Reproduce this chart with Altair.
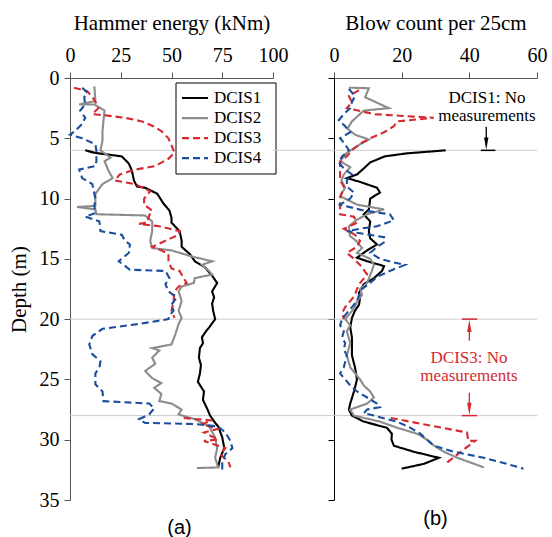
import altair as alt
import pandas as pd

SERIES = ["DCIS1", "DCIS2", "DCIS3", "DCIS4"]
COLORS = ["#000000", "#8c8c8c", "#d42a30", "#1c4e9e"]
DASHES = [[1, 0], [1, 0], [7, 4], [7, 4]]

# ---------------- Hammer energy (kNm) ----------------
e1_depth = [6.0, 6.2, 6.5, 7.1, 7.7, 8.5, 9.0, 9.1, 9.6, 10.4, 11.0, 11.6, 12.0, 12.7, 13.5, 14.0, 14.6, 15.2,
            15.7, 16.4, 17.0, 17.7, 18.2, 18.7, 19.3, 20.0, 20.7, 21.0, 21.5, 22.0, 22.4, 23.2, 23.8, 24.5, 25.2,
            26.0, 26.7, 27.4, 28.0, 28.6, 28.9, 29.8, 30.7, 31.5, 32.3]
e1_val = [7.5, 12, 25.5, 29, 30.5, 31.5, 33, 37, 43, 46, 49, 50, 50, 54, 55, 55, 59, 61.5,
          66.5, 70, 72.5, 70, 71, 70, 70.5, 71.5, 68.5, 67, 65, 65.5, 64, 63.5, 64.5, 64, 63,
          66, 65.5, 67.5, 69, 71.5, 73, 75, 76, 74, 73]

e2_depth = [0.7, 1.9, 2.2, 2.2, 2.6, 2.7, 4.4, 5.2, 6.0, 6.6, 6.9, 7.7, 8.3, 8.8, 9.6, 10.6, 10.7, 10.9, 11.3,
            11.4, 11.9, 12.7, 13.5, 14.1, 14.3, 14.8, 15.2, 15.5, 16.0, 16.3, 16.6, 17.0, 17.3, 17.7, 18.5, 19.3,
            19.9, 20.4, 21.2, 22.1, 22.4, 22.6, 23.2, 23.7, 24.3, 24.9, 25.3, 25.7, 26.2, 26.8, 27.0, 27.5, 27.9,
            28.3, 28.9, 29.8, 30.7, 31.5, 32.3, 32.35]
e2_val = [12, 12.5, 4.5, 12, 16, 17, 16, 16, 15, 20, 17, 19, 21, 16, 12.5, 12.5, 3.5, 12.5, 13,
          37, 40.5, 40.5, 39.5, 40.5, 50, 60, 70, 65, 68.5, 70, 61.5, 61, 55, 53.5, 55, 53.5,
          55, 53.5, 52, 50, 40.5, 44, 40.5, 42, 37, 40.5, 45, 41.5, 45, 44, 50, 55, 53.5,
          61.5, 68.5, 71.5, 72.5, 71.5, 73, 62.5]

e3a_depth = [0.8, 1.1, 1.8, 2.5, 3.0, 3.1, 3.3, 3.6, 4.0, 4.4, 5.0, 5.6, 6.2, 6.7, 7.3, 7.6, 8.0, 8.5, 8.8,
             9.4, 10.0, 10.5, 11.0, 11.4, 12.0, 12.1, 12.3, 12.7, 13.0, 13.5, 14.0, 14.3, 14.6, 15.2, 15.8,
             16.0, 16.6, 17.0, 17.3, 17.7, 18.5, 19.3, 19.9]
e3a_val = [2, 8.5, 12, 14, 11, 17.5, 27, 35.5, 41, 45, 48.5, 50, 51.5, 48.5, 42, 32, 24.5, 22, 32,
           39.5, 36.5, 36.5, 40.5, 39, 38, 34, 44, 54, 53.5, 47, 40.5, 45, 48.5, 48.5, 50,
           54, 56, 57.5, 53.5, 51.5, 51, 50, 51.5]
e3b_depth = [28.2, 28.4, 28.7, 29.1, 29.4, 30.0, 30.1, 30.7, 31.2, 31.8, 32.3]
e3b_val = [56, 70, 65, 73, 66, 73, 66, 76.5, 74, 78, 79]

e4_depth = [0.8, 1.2, 1.6, 2.2, 2.7, 3.3, 3.8, 4.4, 4.7, 5.0, 5.5, 6.0, 6.9, 7.3, 7.6, 8.3, 8.8, 10.0, 10.6,
            11.2, 11.5, 11.9, 12.7, 13.0, 13.5, 13.8, 14.5, 15.2, 15.5, 15.9, 16.0, 16.6, 17.1, 17.7, 18.2,
            18.8, 19.3, 19.7, 20.0, 20.4, 20.8, 21.4, 22.1, 22.9, 23.5, 24.0, 24.5, 25.4, 26.0, 26.8, 27.0,
            27.4, 27.9, 28.3, 28.6, 28.7, 28.9, 29.4, 30.1, 30.7, 31.2, 31.9, 32.8]
e4_val = [6, 8.5, 7, 7.5, 5, 7.5, 6, 2.5, 0, 6, 12.5, 13, 13, 12.5, 4.5, 6, 11, 12.5, 12,
          12.5, 7.5, 14.5, 15, 25.5, 27, 29.5, 29, 24, 26.5, 29.5, 47, 49, 47, 48.5, 52.5,
          50, 51, 49, 48.5, 34, 16, 11, 9.5, 11, 15, 14.5, 12.5, 12.5, 16, 16.5, 39,
          41.5, 39, 34, 37, 61.5, 73, 76.5, 79, 80, 76.5, 75, 75]

# ---------------- Blow count per 25cm ----------------
b1_depth = [6.0, 6.25, 6.5, 7.0, 7.5, 8.0, 8.3, 8.6, 9.1, 9.5, 10.0, 10.9, 11.3, 11.9, 12.7, 13.3, 13.8, 14.3,
            14.9, 15.2, 15.6, 16.0, 16.6, 17.1, 17.8, 18.2, 18.8, 19.3, 19.9, 20.7, 21.5, 22.4, 23.0, 24.0,
            25.0, 26.0, 27.0, 27.5, 28.0, 28.5, 29.0, 29.5, 30.0, 30.5, 31.0, 31.5, 32.0, 32.4]
b1_val = [33, 21.5, 15, 10.7, 8.8, 6.8, 3.8, 7.5, 12.7, 13.6, 10.7, 10.3, 8.8, 10.7, 10.3, 10.7, 12.7, 9.8,
          6.8, 9.8, 14.8, 14.2, 11.8, 8.8, 7.4, 7.7, 7.4, 6.2, 5.3, 4.8, 5.3, 5.3, 5.3, 6.2,
          6.8, 5.9, 4.8, 4.4, 5.3, 8.8, 15.6, 17.1, 17, 17.7, 23.6, 31, 26.6, 20]

b2_depth = [0.8, 0.85, 1.6, 2.5, 2.7, 3.6, 4.2, 4.7, 5.1, 5.5, 6.2, 6.9, 7.4, 8.0, 8.5, 9.1, 9.8, 10.5, 10.9,
            11.3, 11.8, 12.3, 13.1, 13.5, 14.1, 14.5, 15.0, 15.5, 16.0, 17.0, 17.5, 18.0, 18.5, 19.0, 19.5,
            20.0, 20.5, 21.0, 22.0, 23.0, 24.0, 25.0, 25.5, 26.0, 26.5, 27.0, 27.5, 28.0, 28.5, 29.0, 29.5,
            30.0, 30.5, 31.0, 31.5, 32.0, 32.3]
b2_val = [4.4, 10.3, 9.2, 16.2, 8.8, 5.3, 4.0, 6.2, 10.3, 7.7, 3.8, 1.8, 4.8, 2.9, 2.2, 3.3, 1.8, 6.8, 14.8,
          9.8, 6.5, 4.4, 4.7, 6.5, 8.3, 6.8, 10.7, 11.8, 11.2, 9.8, 7.7, 8.3, 6.8, 6.2, 4.8,
          3.3, 4.8, 3.8, 4.8, 3.8, 4.8, 7.7, 8.8, 10.7, 11.8, 9.8, 4.8, 5.9, 13.6, 18.6, 24.5,
          27.5, 29.6, 32.5, 36.5, 41.4, 44.3]

b3a_depth = [1.0, 1.5, 2.0, 2.5, 3.0, 3.2, 3.3, 3.6, 4.0, 4.5, 5.0, 5.5, 6.0, 6.5, 7.0, 8.0, 8.5, 9.0, 10.0,
             11.3, 11.5, 12.0, 12.5, 13.0, 13.5, 14.0, 14.5, 15.0, 15.5, 16.3, 17.0, 17.5, 18.0, 18.5, 19.0,
             19.5, 20.0]
b3a_val = [7.4, 4.4, 5.3, 3.8, 12, 23.5, 29.5, 18.6, 17.7, 14.8, 10.7, 7.4, 5.3, 3.8, 1.8, 1.8, 1.8, 2.9, 1.8,
           1.8, 5.9, 6.8, 2.9, 6.2, 7.7, 6.8, 3.8, 5.9, 7.7, 9.8, 7.7, 6.8, 6.2, 4.8, 3.3,
           2.4, 2.9]
b3b_depth = [28.2, 28.8, 29.4, 30.1, 30.1, 31.0, 31.9]
b3b_val = [16.8, 28, 39.3, 39.7, 41.7, 37.5, 33.4]

b4_depth = [0.9, 1.5, 2.0, 2.5, 3.0, 3.5, 4.0, 4.5, 5.0, 5.5, 6.0, 6.5, 7.0, 7.5, 8.0, 8.5, 9.0, 9.5, 10.0,
            10.5, 11.0, 11.3, 11.8, 12.3, 12.5, 12.7, 13.2, 13.6, 14.0, 14.5, 15.0, 15.3, 15.5, 16.0, 16.5,
            17.0, 17.5, 18.0, 18.5, 19.0, 19.5, 20.0, 20.5, 21.0, 21.5, 22.0, 22.5, 23.0, 24.0, 24.5, 25.0,
            25.5, 26.0, 26.5, 27.0, 27.3, 27.5, 27.8, 28.0, 28.5, 29.0, 29.5, 30.0, 30.5, 31.0, 31.5, 32.0,
            32.4]
b4_val = [4.4, 6.2, 5.3, 4.8, 2.9, 1.4, 3.3, 4.8, 1.8, 3.3, 4.4, 2.4, 1.4, 2.9, 5.3, 3.8, 3.8, 5.9, 4.8,
          1.8, 8.8, 16.5, 17.7, 12.7, 7.7, 3.8, 14.8, 15, 12.7, 10.7, 13.6, 17.7, 21, 16.5, 12.7,
          10.7, 8.3, 7.4, 6.8, 5.3, 3.8, 2.4, 1.8, 2.9, 2.4, 3.3, 2.9, 3.8, 2.9, 1.8, 3.3,
          4.8, 6.8, 9.8, 12.7, 13.6, 9.8, 8.8, 11.8, 18.6, 22.5, 25.5, 27.5, 29.5, 35.5, 44.3, 51,
          56]

REF_DEPTHS = [6, 20, 28]

energy_ticks = [0, 25, 50, 75, 100]
blow_ticks = [0, 20, 40, 60]
depth_ticks = [0, 5, 10, 15, 20, 25, 30, 35]

# legend rows placed on the depth axis (one row every ~1.66 m)
LEGEND_ROW_DEPTH = [1.66, 3.32, 4.98, 6.64]


def frame(parts):
    rows = []
    for series, seg, depth, vals in parts:
        for i, (d, v) in enumerate(zip(depth, vals)):
            rows.append({"series": series, "seg": f"{series}-{seg}", "idx": i, "depth": d, "value": v})
    return pd.DataFrame(rows)


energy_df = frame([("DCIS1", 0, e1_depth, e1_val), ("DCIS2", 0, e2_depth, e2_val),
                   ("DCIS3", 0, e3a_depth, e3a_val), ("DCIS3", 1, e3b_depth, e3b_val),
                   ("DCIS4", 0, e4_depth, e4_val)])
blow_df = frame([("DCIS1", 0, b1_depth, b1_val), ("DCIS2", 0, b2_depth, b2_val),
                 ("DCIS3", 0, b3a_depth, b3a_val), ("DCIS3", 1, b3b_depth, b3b_val),
                 ("DCIS4", 0, b4_depth, b4_val)])
ref_df = pd.DataFrame({"depth": REF_DEPTHS})
legend_df = pd.DataFrame({"series": SERIES, "depth": LEGEND_ROW_DEPTH})

W, H, GAP = 203, 422, 61
SERIF = "Liberation Serif"
SANS = "Liberation Sans"

color_scale = alt.Scale(domain=SERIES, range=COLORS)
dash_scale = alt.Scale(domain=SERIES, range=DASHES)
yscale = alt.Scale(domain=[0, 35], reverse=True, nice=False, zero=False)


def lines(df, xscale, xaxis):
    return alt.Chart(df).mark_line(strokeWidth=2.1, clip=False).encode(
        x=alt.X("value:Q", scale=xscale, axis=xaxis),
        y=alt.Y("depth:Q", scale=yscale),
        color=alt.Color("series:N", scale=color_scale, legend=None),
        strokeDash=alt.StrokeDash("series:N", scale=dash_scale, legend=None),
        detail="seg:N",
        order="idx:Q",
    )


# left panel
e_xscale = alt.Scale(domain=[0, 100], nice=False)
e_xaxis = alt.Axis(orient="top", values=energy_ticks, title="Hammer energy (kNm)", grid=False, labelFlush=False,
                   tickSize=6, labelPadding=7, titlePadding=12, domainColor="#555555", tickColor="#555555")
left_y_axis = alt.Axis(values=depth_ticks, title="Depth (m)", grid=False, tickSize=6, labelPadding=5,
                       labelFlush=False, titlePadding=10, domainColor="#555555", tickColor="#555555")

left_ref = alt.Chart(ref_df).mark_rule(color="#cccccc", strokeWidth=1).encode(
    y=alt.Y("depth:Q", scale=yscale, axis=left_y_axis), x=alt.value(0), x2=alt.value(W))

# legend: white box with a line sample and a label per series
legend_box = alt.Chart(pd.DataFrame({"k": [0]})).mark_rect(fill="white", stroke="black", strokeWidth=1).encode(
    x=alt.value(106), x2=alt.value(206), y=alt.value(5), y2=alt.value(96))
leg_lines = alt.Chart(legend_df).mark_rule(strokeWidth=2.2).encode(
    y=alt.Y("depth:Q", scale=yscale), x=alt.value(112), x2=alt.value(138),
    color=alt.Color("series:N", scale=color_scale, legend=None),
    strokeDash=alt.StrokeDash("series:N", scale=dash_scale, legend=None))
leg_text = alt.Chart(legend_df).mark_text(font=SERIF, fontSize=17, align="left", baseline="middle",
                                          color="black").encode(
    y=alt.Y("depth:Q", scale=yscale), x=alt.value(144), text="series:N")

left = alt.layer(left_ref, lines(energy_df, e_xscale, e_xaxis), legend_box, leg_lines, leg_text).properties(
    width=W, height=H,
    title=alt.TitleParams("(a)", orient="bottom", font=SANS, fontSize=20, fontWeight="normal",
                          color="black", offset=8, frame="group", dx=8))

# right panel
b_xscale = alt.Scale(domain=[0, 60], nice=False)
b_xaxis = alt.Axis(orient="top", values=blow_ticks, title="Blow count per 25cm", grid=False, labelFlush=False,
                   tickSize=6, labelPadding=7, titlePadding=12, domainColor="#555555", tickColor="#555555")
right_y_axis = alt.Axis(values=depth_ticks, labels=False, title=None, grid=False, tickSize=6,
                        domainColor="black", tickColor="black")

right_ref = alt.Chart(ref_df).mark_rule(color="#cccccc", strokeWidth=1).encode(
    y=alt.Y("depth:Q", scale=yscale, axis=right_y_axis), x=alt.value(-GAP), x2=alt.value(W))

# annotations
note1_df = pd.DataFrame({"value": [45.2, 45.2], "depth": [1.66, 3.15], "label": ["DCIS1: No", "measurements"]})
note3_df = pd.DataFrame({"value": [39.9, 39.9], "depth": [23.2, 24.7], "label": ["DCIS3: No", "measurements"]})

ANN_X = [45.0, 40.0, 40.0]
shaft_df = pd.DataFrame({"value": ANN_X, "d1": [4.05, 21.0, 26.1], "d2": [5.0, 21.8, 27.0],
                         "c": ["k", "r", "r"]})
bar_df = pd.DataFrame({"v1": [43.4, 37.8, 37.8], "v2": [47.7, 42.3, 42.3], "depth": [6, 20, 28],
                       "c": ["k", "r", "r"]})
head_down_df = pd.DataFrame({"value": [45.0, 40.0], "depth": [5.45, 27.45], "c": ["k", "r"]})
head_up_df = pd.DataFrame({"value": [40.0], "depth": [20.55], "c": ["r"]})

ann_color = alt.Color("c:N", scale=alt.Scale(domain=["k", "r"], range=["#000000", "#d42a30"]), legend=None)

txt1 = alt.Chart(note1_df).mark_text(font=SERIF, fontSize=17, color="black", baseline="middle").encode(
    x=alt.X("value:Q", scale=b_xscale), y=alt.Y("depth:Q", scale=yscale), text="label:N")
txt3 = alt.Chart(note3_df).mark_text(font=SERIF, fontSize=17, color="#d42a30", baseline="middle").encode(
    x=alt.X("value:Q", scale=b_xscale), y=alt.Y("depth:Q", scale=yscale), text="label:N")
shafts = alt.Chart(shaft_df).mark_rule(strokeWidth=1.3).encode(
    x=alt.X("value:Q", scale=b_xscale), y=alt.Y("d1:Q", scale=yscale), y2="d2:Q", stroke=ann_color)
bars = alt.Chart(bar_df).mark_rule(strokeWidth=1.5).encode(
    x=alt.X("v1:Q", scale=b_xscale), x2="v2:Q", y=alt.Y("depth:Q", scale=yscale), stroke=ann_color)
heads_down = alt.Chart(head_down_df).mark_point(
    shape="M-0.36,-1L0.36,-1L0,1Z", filled=True, size=150, opacity=1).encode(
    x=alt.X("value:Q", scale=b_xscale), y=alt.Y("depth:Q", scale=yscale), fill=ann_color)
heads_up = alt.Chart(head_up_df).mark_point(
    shape="M-0.36,1L0.36,1L0,-1Z", filled=True, size=150, opacity=1).encode(
    x=alt.X("value:Q", scale=b_xscale), y=alt.Y("depth:Q", scale=yscale), fill=ann_color)

right = alt.layer(right_ref, lines(blow_df, b_xscale, b_xaxis),
                  shafts, bars, heads_down, heads_up, txt1, txt3).resolve_scale(
    color="independent", fill="independent", stroke="independent").properties(
    width=W, height=H,
    title=alt.TitleParams("(b)", orient="bottom", font=SANS, fontSize=20, fontWeight="normal",
                          color="black", offset=8, frame="group"))

chart = alt.hconcat(left, right, spacing=GAP, bounds="flush").resolve_scale(
    color="independent", strokeDash="independent").properties(
    padding={"left": 8, "top": 12, "right": 2, "bottom": 0}, background="white").configure_view(
    stroke=None).configure_axis(
    labelFont=SERIF, labelFontSize=20, labelColor="black", titleFont=SERIF, titleFontSize=21,
    titleFontWeight="normal", titleColor="black").configure_text(font=SERIF)

chart.save("out.html", embed_options={"renderer": "svg", "actions": False})
